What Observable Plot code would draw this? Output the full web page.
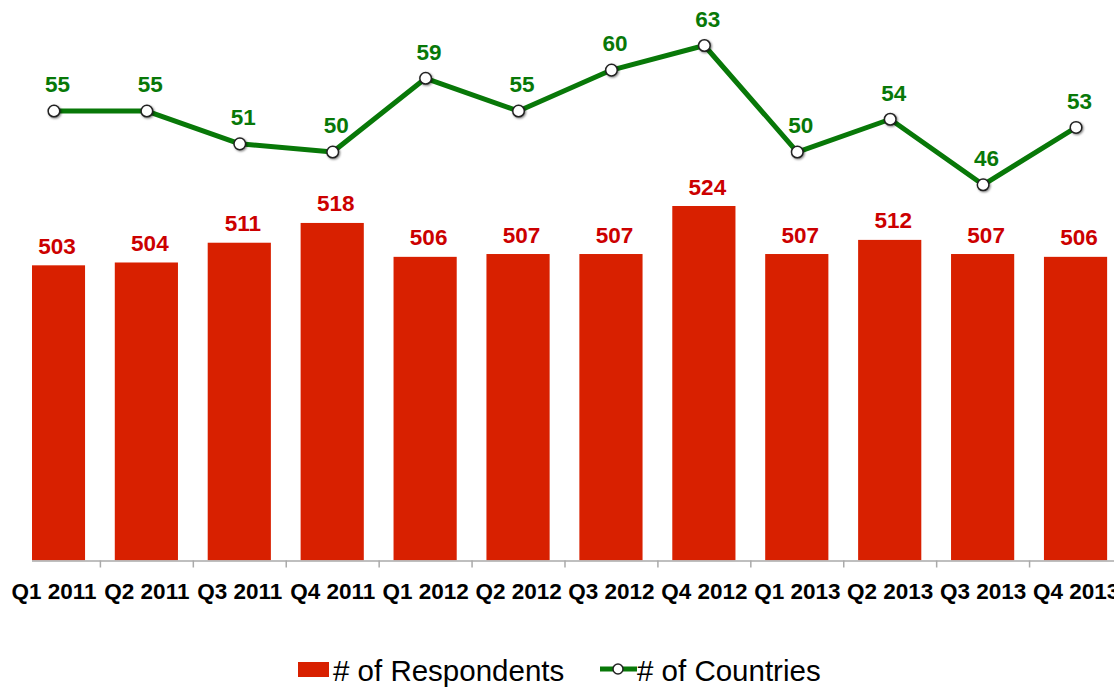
<!DOCTYPE html>
<html><head><meta charset="utf-8">
<script src="https://cdn.jsdelivr.net/npm/d3@7"></script>
<script src="https://cdn.jsdelivr.net/npm/@observablehq/plot@0.6"></script>
<style>
html,body{margin:0;padding:0;background:#fff;overflow:hidden;}
#wrap{position:relative;width:1114px;height:688px;font-family:"Liberation Sans",Arial,sans-serif;}
#wrap > svg{position:absolute;left:0;top:0;max-width:none;}
#lineplot circle{filter:drop-shadow(1px 1.5px 1px rgba(0,0,0,0.5));}
.lg{position:absolute;font-size:29.5px;line-height:29.5px;color:#000;white-space:nowrap;}
</style>
</head><body>
<div id="wrap"></div>
<script>
const quarters = ["Q1 2011","Q2 2011","Q3 2011","Q4 2011","Q1 2012","Q2 2012","Q3 2012","Q4 2012","Q1 2013","Q2 2013","Q3 2013","Q4 2013"];
const respondents = [503,504,511,518,506,507,507,524,507,512,507,506];
const countries = [55,55,51,50,59,55,60,63,50,54,46,53];

const barColor = "#d82000";
const barLabel = "#cc0000";
const green = "#087808";
const font = "Liberation Sans, Arial, sans-serif";

const data = quarters.map((q, i) => ({quarter: q, respondents: respondents[i], countries: countries[i]}));

const W = 1114, H = 610;
const xScale = {domain: quarters, range: [7, 1122], paddingInner: 0.32, paddingOuter: 0.16, round: false, axis: null};
const yMin = 398.5;

const bars = Plot.plot({
  width: W, height: H,
  marginLeft: 32, marginRight: 0, marginTop: 0, marginBottom: 49.5,
  style: {fontFamily: font, background: "transparent"},
  x: xScale,
  y: {domain: [yMin, 524], range: [560.5, 206], axis: null},
  marks: [
    Plot.barY(data, {x: "quarter", y1: yMin, y2: "respondents", fill: barColor, clip: true}),
    Plot.ruleY([yMin], {stroke: "#aaaaaa", strokeWidth: 1.5}),
    Plot.ruleX(data, {x: "quarter", y1: yMin, y2: yMin, dx: 46.45, insetBottom: -7, stroke: "#aaaaaa", strokeWidth: 1.5}),
    Plot.text(data, {x: "quarter", y: "respondents", text: d => String(d.respondents), lineAnchor: "bottom", dy: -12, dx: 3, fill: barLabel, fontSize: 22.5, fontWeight: "bold"}),
    Plot.axisX({tickSize: 0, tickPadding: 22.5, fontSize: 22.5, fontWeight: "bold", fill: "#000", label: null})
  ]
});

const line = Plot.plot({
  width: W, height: H,
  marginLeft: 0, marginRight: 0, marginTop: 0, marginBottom: 0,
  style: {fontFamily: font, background: "transparent"},
  x: xScale,
  y: {domain: [46, 63], range: [184.3, 45], axis: null},
  marks: [
    Plot.line(data, {x: "quarter", y: "countries", stroke: green, strokeWidth: 5, strokeLinejoin: "round"}),
    Plot.dot(data, {x: "quarter", y: "countries", r: 5.8, fill: "#fff", stroke: "#222", strokeWidth: 1.5}),
    Plot.text(data, {x: "quarter", y: "countries", text: d => String(d.countries), lineAnchor: "bottom", dy: -18.7, dx: 3.5, fill: green, fontSize: 22.5, fontWeight: "bold"})
  ]
});

const wrap = document.getElementById("wrap");
wrap.appendChild(bars);
const lineDiv = document.createElement("div");
lineDiv.id = "lineplot";
lineDiv.style.cssText = "position:absolute;left:0;top:0;";
lineDiv.appendChild(line);
wrap.appendChild(lineDiv);

// legend
const legend = document.createElement("div");
legend.innerHTML = `
  <div style="position:absolute;left:298px;top:662px;width:31px;height:15px;background:${barColor}"></div>
  <span class="lg" style="left:333px;top:656px"># of Respondents</span>
  <svg style="position:absolute;left:598px;top:660px" width="42" height="18">
    <line x1="2" x2="39" y1="9" y2="9" stroke="${green}" stroke-width="5"/>
    <circle cx="20" cy="9" r="5" fill="#fff" stroke="#222" stroke-width="1.5"/>
  </svg>
  <span class="lg" style="left:637px;top:656px"># of Countries</span>`;
wrap.appendChild(legend);
</script>
</body></html>
